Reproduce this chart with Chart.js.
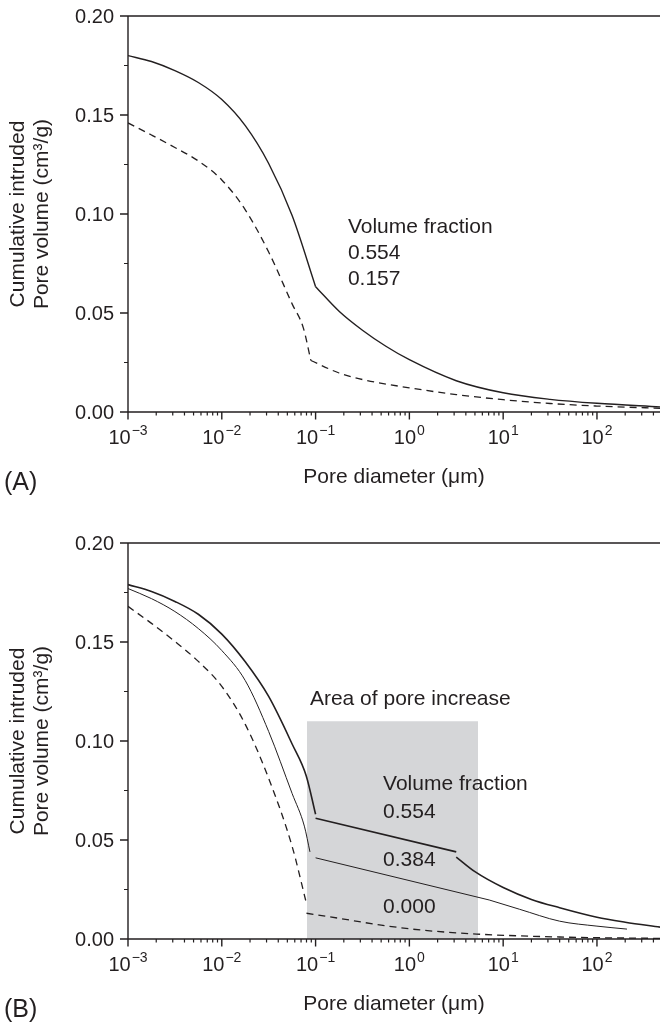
<!DOCTYPE html>
<html>
<head>
<meta charset="utf-8">
<title>Cumulative intruded pore volume</title>
<script src="https://cdn.jsdelivr.net/npm/chart.js@4.4.1/dist/chart.umd.min.js"></script>
<style>
  html, body { margin: 0; padding: 0; background: #ffffff; }
  #wrap { position: relative; width: 660px; height: 1022px; overflow: hidden; }
  canvas { position: absolute; left: 0; }
</style>
</head>
<body>
<div id="wrap">
  <canvas id="chartA" width="660" height="527" style="top:0;width:660px;height:527px"></canvas>
  <canvas id="chartB" width="660" height="495" style="top:527px;width:660px;height:495px"></canvas>
</div>
<script>
// ---- axes ----
const xRange = [0.001, 470];
const yRange = [0, 0.2];
const yMajorTicks = [0, 0.05, 0.10, 0.15, 0.20];
const yTickLabels = ['0.00', '0.05', '0.10', '0.15', '0.20'];
const yMinorTicks = [0.025, 0.075, 0.125, 0.175];
const xDecades = [0.001, 0.01, 0.1, 1, 10, 100];
const xDecadeExponents = ['\u22123', '\u22122', '\u22121', '0', '1', '2'];
const xMinorSteps = [2, 3, 4, 5, 6, 7, 8, 9];

const xTitle = 'Pore diameter (\u03bcm)';
const yTitleLines = ['Cumulative intruded', 'Pore volume (cm\u00b3/g)'];

// ---- panel A: [pore diameter (um), cumulative volume (cm3/g)] ----
const aFrac554Fine = [[0.001, 0.1800], [0.00178, 0.1770], [0.00316, 0.1724], [0.00562, 0.1664], [0.01, 0.1578],
  [0.0178, 0.1446], [0.0316, 0.1255], [0.0562, 0.0992], [0.1, 0.0633]];
const aFrac554Coarse = [[0.1, 0.0633], [0.178, 0.0509], [0.316, 0.0413], [0.562, 0.0332], [1, 0.0264],
  [3.16, 0.0158], [10, 0.0097], [31.6, 0.0064], [100, 0.0044], [470, 0.0026]];
const aFrac157Fine = [[0.001, 0.1460], [0.00178, 0.1399], [0.00316, 0.1336], [0.00562, 0.1268], [0.01, 0.1172],
  [0.0178, 0.1021], [0.0316, 0.0808], [0.0562, 0.0546], [0.074, 0.0425], [0.0891, 0.0260]];
const aFrac157Coarse = [[0.0891, 0.0260], [0.178, 0.0197], [0.316, 0.0164], [1, 0.0122], [3.16, 0.0088],
  [10, 0.0062], [31.6, 0.0043], [100, 0.0030], [470, 0.0019]];
const aNotes = ['Volume fraction', '0.554', '0.157'];

// ---- panel B ----
const bFrac554Fine = [[0.001, 0.1790], [0.00178, 0.1755], [0.00316, 0.1705], [0.00562, 0.1640], [0.01, 0.1540],
  [0.0178, 0.1400], [0.0316, 0.1225], [0.0562, 0.0985], [0.0794, 0.0825], [0.1, 0.0630]];
const bFrac554Band = [[0.1, 0.061], [3.16, 0.044]];
const bFrac554Coarse = [[3.16, 0.0414], [5, 0.034], [10, 0.026], [20, 0.020], [40, 0.0158], [100, 0.011],
  [200, 0.0085], [470, 0.006]];
const bFrac384Fine = [[0.001, 0.1770], [0.00178, 0.1719], [0.00316, 0.1654], [0.00562, 0.1568], [0.01, 0.1457],
  [0.0178, 0.1305], [0.0316, 0.1048], [0.0562, 0.0735], [0.0759, 0.0570], [0.0871, 0.0440]];
const bFrac384Band = [[0.1, 0.041], [7.1, 0.0197]];
const bFrac384Coarse = [[7.1, 0.0197], [15, 0.015], [40, 0.009], [100, 0.0065], [209, 0.005]];
const bFrac000Fine = [[0.001, 0.1680], [0.00178, 0.1594], [0.00316, 0.1503], [0.00562, 0.1402], [0.01, 0.1276],
  [0.0178, 0.1084], [0.0316, 0.0811], [0.0562, 0.0468], [0.0794, 0.0185]];
const bFrac000Coarse = [[0.08, 0.013], [0.17, 0.0106], [0.5, 0.007], [1.35, 0.0045], [5.2, 0.0025],
  [40, 0.001], [470, 0.0003]];
const increaseDiameters = [0.081, 5.4];
const increaseVolume = 0.11;
const bNotes = ['Area of pore increase', 'Volume fraction', '0.554', '0.384', '0.000'];

const INK = '#231f20';
const BAND = '#d5d6d8';
const FACE = '"Liberation Sans", Arial, Helvetica, sans-serif';

function curve(points, width, dash) {
  return {
    data: points.map(([x, y]) => ({ x, y })),
    borderColor: INK,
    borderWidth: width,
    borderDash: dash || [],
    pointRadius: 0,
    fill: false,
    cubicInterpolationMode: 'monotone',
    order: 1
  };
}

// axes, ticks, tick labels, titles and annotations
const framePlugin = {
  id: 'frame',
  afterDraw(chart, args, opts) {
    const { ctx, chartArea: a } = chart;
    const xs = chart.scales.x, ys = chart.scales.y;
    const base = ys.getPixelForValue(yRange[0]);
    const top = ys.getPixelForValue(yRange[1]);
    const left = xs.getPixelForValue(xRange[0]);
    const right = a.right;
    ctx.save();
    ctx.strokeStyle = INK;
    ctx.lineWidth = 1.4;
    ctx.beginPath();
    ctx.moveTo(left, top); ctx.lineTo(left, base);
    ctx.moveTo(left - 8, base); ctx.lineTo(right, base);
    ctx.moveTo(left - 8, top); ctx.lineTo(right, top);
    yMajorTicks.forEach(v => { const p = ys.getPixelForValue(v); ctx.moveTo(left - 8, p); ctx.lineTo(left, p); });
    xDecades.forEach(d => { const p = xs.getPixelForValue(d); ctx.moveTo(p, base); ctx.lineTo(p, base + 7.5); });
    ctx.stroke();
    ctx.lineWidth = 1.2;
    ctx.beginPath();
    yMinorTicks.forEach(v => { const p = ys.getPixelForValue(v); ctx.moveTo(left - 4, p); ctx.lineTo(left, p); });
    xDecades.forEach(d => xMinorSteps.forEach(m => {
      const v = d * m;
      if (v > xRange[1]) return;
      const p = xs.getPixelForValue(v);
      ctx.moveTo(p, base); ctx.lineTo(p, base + 3.5);
    }));
    ctx.stroke();

    ctx.fillStyle = INK;
    ctx.font = '20px ' + FACE;
    ctx.textAlign = 'right';
    ctx.textBaseline = 'middle';
    yMajorTicks.forEach((v, i) => ctx.fillText(yTickLabels[i], left - 14, ys.getPixelForValue(v) + 1));

    ctx.textAlign = 'left';
    ctx.textBaseline = 'alphabetic';
    xDecades.forEach((d, i) => {
      const p = xs.getPixelForValue(d);
      ctx.font = '20px ' + FACE;
      const wb = ctx.measureText('10').width;
      ctx.font = '14px ' + FACE;
      const we = ctx.measureText(xDecadeExponents[i]).width;
      const x0 = p - (wb + we + 1) / 2;
      ctx.font = '20px ' + FACE;
      ctx.fillText('10', x0, base + 32);
      ctx.font = '14px ' + FACE;
      ctx.fillText(xDecadeExponents[i], x0 + wb + 1, base + 23);
    });

    ctx.font = '21px ' + FACE;
    ctx.textAlign = 'center';
    ctx.fillText(xTitle, (left + right) / 2, base + 71);
    const cy = (top + base) / 2;
    yTitleLines.forEach((line, i) => {
      ctx.save();
      ctx.translate(left - 104 + i * 24, cy);
      ctx.rotate(-Math.PI / 2);
      ctx.fillText(line, 0, 0);
      ctx.restore();
    });

    ctx.textAlign = 'left';
    ctx.font = '25px ' + FACE;
    ctx.fillText(opts.panel, 4, base + 78);

    ctx.font = '21px ' + FACE;
    opts.notes.forEach(n => ctx.fillText(n.text, xs.getPixelForValue(n.x), ys.getPixelForValue(n.y)));
    ctx.restore();
  }
};

function makeChart(id, height, datasets, panel, notes) {
  return new Chart(document.getElementById(id), {
    type: 'line',
    data: { datasets },
    options: {
      responsive: false,
      animation: false,
      devicePixelRatio: 1,
      layout: { padding: { left: 128, right: 0, top: 16, bottom: height - 412 } },
      scales: {
        x: { type: 'logarithmic', min: xRange[0], max: xRange[1], display: false },
        y: { type: 'linear', min: yRange[0], max: yRange[1], display: false }
      },
      plugins: {
        legend: { display: false },
        tooltip: { enabled: false },
        frame: { panel, notes }
      }
    },
    plugins: [framePlugin]
  });
}

makeChart('chartA', 527, [
  curve(aFrac554Fine, 1.4),
  curve(aFrac554Coarse, 1.4),
  curve(aFrac157Fine, 1.3, [7, 5]),
  curve(aFrac157Coarse, 1.3, [7, 5])
], '(A)', [
  { text: aNotes[0], x: 0.221, y: 0.0904 },
  { text: aNotes[1], x: 0.221, y: 0.0773 },
  { text: aNotes[2], x: 0.221, y: 0.0641 }
]);

makeChart('chartB', 495, [
  {
    data: increaseDiameters.map(x => ({ x, y: increaseVolume })),
    borderColor: 'rgba(0,0,0,0)',
    borderWidth: 0,
    backgroundColor: BAND,
    pointRadius: 0,
    fill: 'origin',
    order: 10
  },
  curve(bFrac554Fine, 1.6),
  curve(bFrac554Band, 1.6),
  curve(bFrac554Coarse, 1.6),
  curve(bFrac384Fine, 1.0),
  curve(bFrac384Band, 1.0),
  curve(bFrac384Coarse, 1.0),
  curve(bFrac000Fine, 1.3, [7, 5]),
  curve(bFrac000Coarse, 1.3, [7, 5])
], '(B)', [
  { text: bNotes[0], x: 0.087, y: 0.1182 },
  { text: bNotes[1], x: 0.524, y: 0.0753 },
  { text: bNotes[2], x: 0.524, y: 0.0611 },
  { text: bNotes[3], x: 0.524, y: 0.0369 },
  { text: bNotes[4], x: 0.524, y: 0.0131 }
]);
</script>
</body>
</html>
